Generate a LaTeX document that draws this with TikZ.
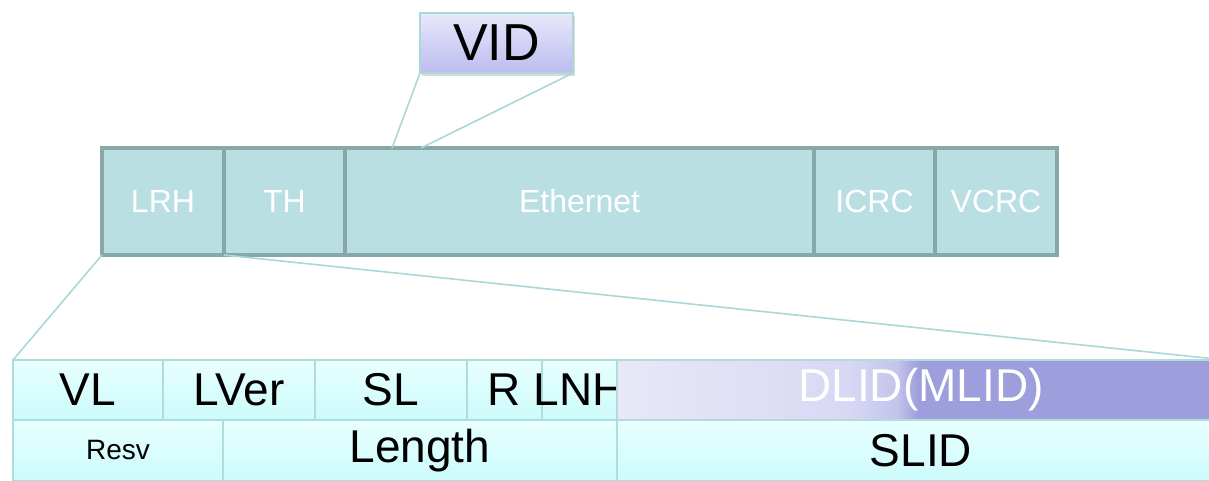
\documentclass[tikz,border=0pt]{standalone}
\usepackage{fontspec}
\setmainfont{Liberation Sans}
\usetikzlibrary{positioning,shadows}

\definecolor{barfill}{HTML}{B9DFE2}
\definecolor{barline}{HTML}{88A8A8}
\definecolor{celltop}{HTML}{E8FFFF}
\definecolor{cellbot}{HTML}{CCFBFB}
\definecolor{cellline}{HTML}{B0DCDC}
\definecolor{vidtop}{HTML}{E8E8FA}
\definecolor{vidbot}{HTML}{BCBCF0}
\definecolor{zoomline}{HTML}{A8D8D8}
\definecolor{dlida}{HTML}{E8E8F8}
\definecolor{dlidb}{HTML}{D8D8F4}
\definecolor{dlidc}{HTML}{C4C4EC}
\definecolor{dlidd}{HTML}{9E9EDC}

\pgfdeclarehorizontalshading{dlidshade}{100bp}{color(0bp)=(dlida); color(25bp)=(dlida); color(44bp)=(dlidb); color(48bp)=(dlidc); color(49.8bp)=(dlidd); color(100bp)=(dlidd)}

\tikzset{
	barcell/.style={draw=barline, line width=2.2pt, fill=barfill, text=white, font=\fontsize{16}{19}\selectfont, minimum height=53.5pt, inner sep=0pt, outer sep=0pt},
	fieldcell/.style={draw=cellline, line width=0.8pt, top color=celltop, bottom color=cellbot, font=\fontsize{23}{27}\selectfont, inner sep=0pt, outer sep=0pt},
	vidbox/.style={draw=zoomline, line width=1pt, top color=vidtop, bottom color=vidbot, font=\fontsize{26}{30}\selectfont, minimum width=76.5pt, minimum height=30pt, inner sep=0pt, outer sep=0pt, drop shadow={shadow xshift=1pt, shadow yshift=-1.5pt, opacity=0.3}},
	zoom/.style={draw=zoomline, line width=0.8pt}
}

\begin{document}
\begin{tikzpicture}[x=0.5pt,y=-0.5pt]
		\useasboundingbox (0,0) rectangle (1209,481);
		% packet
		\node[barcell, minimum width=61pt, anchor=north west] (lrh) at (102,148) {LRH};
		\node[barcell, minimum width=60.5pt, right=0pt of lrh] (th) {TH};
		\node[barcell, minimum width=234.5pt, right=0pt of th] (eth) {Ethernet};
		\node[barcell, minimum width=60.5pt, right=0pt of eth] (icrc) {ICRC};
		\node[barcell, minimum width=61pt, right=0pt of icrc] (vcrc) {VCRC};
		% VID
		\node[vidbox] (vid) at (496.5,43) {VID};
		\coordinate (vidfootl) at (392,148);
		\coordinate (vidfootr) at (421,148);
		\draw[zoom] (vid.south west) -- (vidfootl);
		\draw[zoom] (vid.south east) -- (vidfootr);
		% LRH fields, first row
		\node[fieldcell, minimum width=75pt, minimum height=30pt, anchor=north west] (vl) at (13,360) {VL};
		\node[fieldcell, minimum width=76pt, minimum height=30pt, right=0pt of vl] (lver) {LVer};
		\node[fieldcell, minimum width=76pt, minimum height=30pt, right=0pt of lver] (sl) {SL};
		\node[fieldcell, minimum width=37.5pt, minimum height=30pt, right=0pt of sl] (r) {R};
		\node[fieldcell, minimum width=37.5pt, minimum height=30pt, right=0pt of r] (lnh) {\makebox[0pt]{LNH}};
		\node[fieldcell, shading=dlidshade, text=white, minimum width=304pt, minimum height=30pt, right=0pt of lnh] (dlid) {DLID(MLID)};
		% second row
		\node[fieldcell, font=\fontsize{14}{17}\selectfont, minimum width=105pt, minimum height=30.5pt, anchor=north west] (resv) at (vl.south west) {Resv};
		\node[fieldcell, minimum width=197pt, minimum height=30.5pt, right=0pt of resv] (len) {Length};
		\node[fieldcell, minimum width=304pt, minimum height=30.5pt, right=0pt of len] (slid) {SLID};
		\draw[zoom] (lrh.south west) -- (vl.north west);
		\draw[zoom] (lrh.south east) -- (dlid.north east);
	\end{tikzpicture}
\end{document}
